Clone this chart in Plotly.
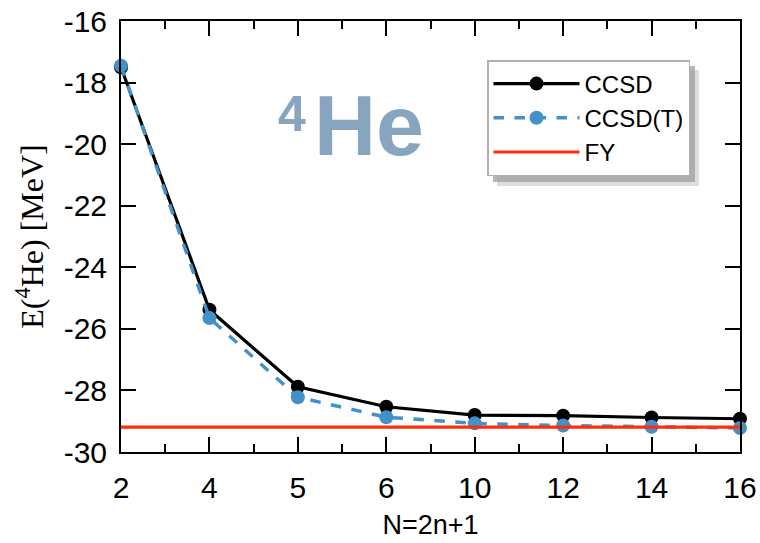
import plotly.graph_objects as go

# ---- data ----
n_labels = ["2", "4", "5", "6", "10", "12", "14", "16"]
ccsd = [-17.50, -25.38, -27.88, -28.53, -28.80, -28.82, -28.88, -28.92]
ccsd_t = [-17.45, -25.65, -28.22, -28.87, -29.07, -29.14, -29.18, -29.22]
fy_value = -29.19
y_tick_vals = [-30, -28, -26, -24, -22, -20, -18, -16]
y_tick_text = ["-30", "-28", "-26", "-24", "-22", "-20", "-18", "-16"]

xpos = list(range(len(n_labels)))

BLACK = "#000000"
BLUE = "#4292c9"
RED = "#ff2d0a"
FONT = "Liberation Sans, Arial, sans-serif"

fig = go.Figure()

fig.add_trace(go.Scatter(
    x=xpos, y=ccsd, mode="lines+markers", name="CCSD",
    line=dict(color=BLACK, width=3.2),
    marker=dict(color=BLACK, size=14),
    cliponaxis=False,
))
fig.add_trace(go.Scatter(
    x=xpos, y=ccsd_t, mode="lines+markers", name="CCSD(T)",
    line=dict(color=BLUE, width=3.5, dash="dash"),
    marker=dict(color=BLUE, size=14),
    cliponaxis=False,
))
fig.add_trace(go.Scatter(
    x=[xpos[0], xpos[-1]], y=[fy_value, fy_value], mode="lines", name="FY",
    line=dict(color=RED, width=3.2),
))

fig.update_layout(
    width=760, height=543,
    margin=dict(l=121, r=20, t=21, b=91),
    paper_bgcolor="white", plot_bgcolor="white",
    font=dict(family=FONT, size=26, color="black"),
    showlegend=True,
    legend=dict(
        x=(487 - 121) / 619, y=1 - (60 - 21) / 431, xanchor="left", yanchor="top",
        bgcolor="white", bordercolor="#b0b0b0", borderwidth=1.5,
        font=dict(family=FONT, size=24, color="black"),
        tracegroupgap=0, itemwidth=86,
    ),
    xaxis=dict(
        range=[0, len(n_labels) - 1],
        tickmode="array", tickvals=xpos, ticktext=n_labels,
        ticks="inside", ticklen=15, tickwidth=1.5, tickcolor="black",
        minor=dict(dtick=0.5, tick0=0, ticks="inside", ticklen=8, tickwidth=1.5, tickcolor="black"),
        showline=True, linecolor="black", linewidth=2, mirror="ticks",
        showgrid=False, zeroline=False, automargin=False,
        ticklabelstandoff=8,
        tickfont=dict(family=FONT, size=30),
        title=dict(text="N=2n+1", font=dict(family=FONT, size=27), standoff=12),
    ),
    yaxis=dict(
        range=[-30, -16],
        tickmode="array", tickvals=y_tick_vals, ticktext=y_tick_text,
        ticks="inside", ticklen=15, tickwidth=1.5, tickcolor="black",
        showline=True, linecolor="black", linewidth=2, mirror="ticks",
        showgrid=False, zeroline=False, automargin=False,
        ticklabelstandoff=6,
        tickfont=dict(family=FONT, size=30),
        title=dict(text="E(<sup>4</sup>He) [MeV]",
                   font=dict(family="Liberation Serif, Times New Roman, serif", size=32),
                   standoff=10),
    ),
)

# 4He label
fig.add_annotation(xref="paper", yref="paper", x=0.276, y=0.785, text="<b>4</b>",
                   xanchor="center", yanchor="middle",
                   showarrow=False, font=dict(family=FONT, size=50, color="#87a5bf"))
fig.add_annotation(xref="paper", yref="paper", x=0.400, y=0.758, text="<b>He</b>",
                   xanchor="center", yanchor="middle",
                   showarrow=False, font=dict(family=FONT, size=86, color="#87a5bf"))

# legend drop shadow (soft, two layers)
fig.add_shape(type="rect", xref="paper", yref="paper",
              x0=(497 - 121) / 619, x1=(699 - 121) / 619,
              y0=1 - (186 - 21) / 431, y1=1 - (70 - 21) / 431,
              fillcolor="#cfcfcf", opacity=0.7, line=dict(width=0), layer="above")
fig.add_shape(type="rect", xref="paper", yref="paper",
              x0=(493 - 121) / 619, x1=(695 - 121) / 619,
              y0=1 - (182 - 21) / 431, y1=1 - (66 - 21) / 431,
              fillcolor="#9a9a9a", opacity=0.7, line=dict(width=0), layer="above")

fig.write_html("out.html")
